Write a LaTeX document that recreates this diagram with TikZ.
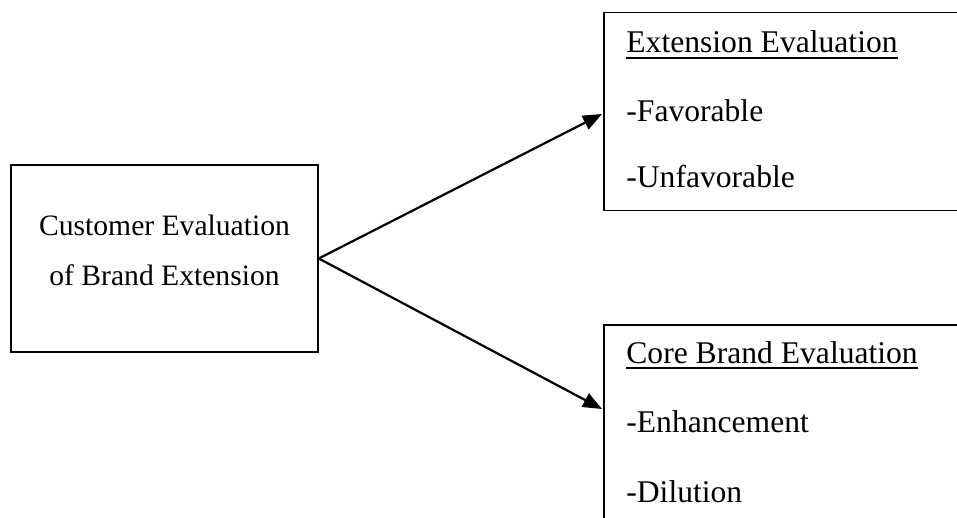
\documentclass[tikz,border=0pt]{standalone}
\usepackage{fontspec}
\setmainfont{Liberation Serif}
\usetikzlibrary{arrows.meta}
\begin{document}
\begin{tikzpicture}[x=0.5pt,y=-0.5pt,
  box/.style={draw, line width=0.75pt, inner sep=0pt},
  conn/.style={line width=1.1pt, -{Triangle[length=9.5pt,width=7.5pt]}},
  midtxt/.style={anchor=base, inner sep=0pt, font=\fontsize{14.8}{18}\selectfont},
  sidetxt/.style={anchor=base west, inner sep=0pt, font=\fontsize{15.8}{19}\selectfont},
  uline/.style={line width=0.75pt}]
  \useasboundingbox (0,0) rectangle (957,518);
  \clip (0,0) rectangle (957,518);

  % source box
  \node[box, minimum width=153.5pt, minimum height=93.5pt] (cust) at (164.5,258.5) {};
  \node[midtxt] (c1) at (164.5,235) {Customer Evaluation};
  \node[midtxt] (c2) at (164.5,285) {of Brand Extension};

  % outcome boxes, running past the right and bottom edges
  \node[box, anchor=north west, minimum width=220pt, minimum height=99pt] (ext) at (603,12) {};
  \node[box, anchor=north west, minimum width=220pt, minimum height=110pt] (core) at (603,324) {};

  \node[sidetxt] (e1) at (626,53) {Extension Evaluation};
  \node[sidetxt] (e2) at (626,122) {-Favorable};
  \node[sidetxt] (e3) at (626,188) {-Unfavorable};
  \draw[uline] ([yshift=-2.5pt]e1.base west) -- ([yshift=-2.5pt]e1.base east);

  \node[sidetxt] (k1) at (626,363) {Core Brand Evaluation};
  \node[sidetxt] (k2) at (626,432) {-Enhancement};
  \node[sidetxt] (k3) at (626,502) {-Dilution};
  \draw[uline] ([yshift=-2.5pt]k1.base west) -- ([yshift=-2.5pt]k1.base east);

  % arrow targets on the left sides of the outcome boxes
  \coordinate (extin) at (602,114);
  \coordinate (corein) at (602,409);

  \draw[conn] (cust.east) -- (extin);
  \draw[conn] (cust.east) -- (corein);
\end{tikzpicture}
\end{document}
